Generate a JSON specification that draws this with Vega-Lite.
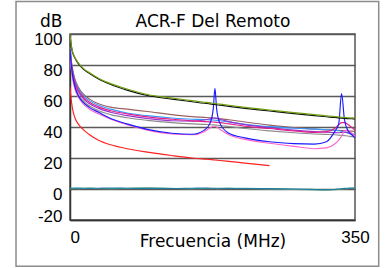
{
  "$schema": "https://vega.github.io/schema/vega-lite/v6.json",
  "width": 285,
  "height": 186,
  "autosize": {"type": "none"},
  "padding": {"left": 70, "top": 34, "right": 35, "bottom": 48},
  "background": "white",
  "config": {"view": {"stroke": "#555555", "strokeWidth": 1.5}, "font": "Liberation Sans", "axis": {"labelOverlap": false}},
  "resolve": {"scale": {"x": "independent", "y": "independent"}, "axis": {"x": "independent", "y": "independent"}},
  "data": {"values": [
    {"f": 0, "g": 100, "k": 99.5, "r": 66, "br": 92, "lb": 91, "mg": 90, "gy": 85, "pu": 87, "bl": 90, "pk": 88, "tq": 0.8, "tg": 0.3},
    {"f": 1, "g": 95, "k": 94.5, "r": 60, "br": 86, "lb": 85, "mg": 84, "gy": 80, "pu": 82, "bl": 83, "pk": 81, "tq": 0.6, "tg": 0.2},
    {"f": 3, "g": 89, "k": 88.5, "r": 52, "br": 78, "lb": 77, "mg": 76, "gy": 73, "pu": 75, "bl": 74, "pk": 72, "tq": 0.5, "tg": 0.4},
    {"f": 6, "g": 85, "k": 84.5, "r": 46, "br": 71, "lb": 70, "mg": 69, "gy": 66, "pu": 68, "bl": 66, "pk": 64.5, "tq": 0.5, "tg": 0.6},
    {"f": 10, "g": 81.5, "k": 81, "r": 42, "br": 66, "lb": 65, "mg": 64, "gy": 61, "pu": 63, "bl": 60.5, "pk": 59.5, "tq": 0.6, "tg": 0.2},
    {"f": 16, "g": 78, "k": 77.5, "r": 38.5, "br": 61.5, "lb": 60.5, "mg": 59.5, "gy": 57, "pu": 58.5, "bl": 56, "pk": 55, "tq": 0.5, "tg": 0.4},
    {"f": 24, "g": 75, "k": 74.5, "r": 35, "br": 58, "lb": 57, "mg": 56, "gy": 53.5, "pu": 55, "bl": 52.5, "pk": 51.5, "tq": 0.4, "tg": 0.6},
    {"f": 35, "g": 71.5, "k": 71, "r": 31.5, "br": 55, "lb": 54, "mg": 53, "gy": 50.5, "pu": 52, "bl": 49.5, "pk": 48.5, "tq": 0.5, "tg": 0.3},
    {"f": 50, "g": 68, "k": 67.4, "r": 28.5, "br": 52.8, "lb": 51.5, "mg": 50.5, "gy": 48, "pu": 49.5, "bl": 45.5, "pk": 45, "tq": 0.6, "tg": 0.2},
    {"f": 70, "g": 64.5, "k": 63.8, "r": 26, "br": 51.5, "lb": 49, "mg": 48.5, "gy": 46, "pu": 47.3, "bl": 42, "pk": 41.5, "tq": 0.5, "tg": 0.5},
    {"f": 95, "g": 61, "k": 60.3, "r": 23.8, "br": 50, "lb": 47.3, "mg": 46.5, "gy": 44.3, "pu": 45.5, "bl": 38.5, "pk": 38, "tq": 0.4, "tg": 0.7},
    {"f": 125, "g": 58.7, "k": 58, "r": 21.6, "br": 48, "lb": 45.8, "mg": 45, "gy": 42.8, "pu": 44, "bl": 36, "pk": 35.5, "tq": 0.3, "tg": 0.4},
    {"f": 150, "g": 57, "k": 56.3, "r": 20, "br": 46.7, "lb": 45, "mg": 44, "gy": 42, "pu": 43.8, "bl": 35.3, "pk": 35, "tq": 0.5, "tg": 0.2},
    {"f": 165, "g": 56, "k": 55.3, "r": 19.3, "br": 46.2, "lb": 44.8, "mg": 43.5, "gy": 41.7, "pu": 44.5, "bl": 38, "pk": 37, "tq": 0.6, "tg": 0.3},
    {"f": 172, "g": 55.6, "k": 54.9, "r": 19, "br": 46, "lb": 44.6, "mg": 43.3, "gy": 41.5, "pu": 45.3, "bl": 42.5, "pk": 39.3, "tq": 0.5, "tg": 0.5},
    {"f": 176, "g": 55.3, "k": 54.6, "r": 18.8, "br": 45.8, "lb": 44.5, "mg": 43.2, "gy": 41.4, "pu": 45.8, "bl": 52, "pk": 40.5, "tq": 0.5, "tg": 0.3},
    {"f": 178, "g": 55.2, "k": 54.5, "r": 18.7, "br": 45.7, "lb": 44.4, "mg": 43.1, "gy": 41.3, "pu": 45.8, "bl": 65, "pk": 40.5, "tq": 0.4, "tg": 0.4},
    {"f": 180, "g": 55, "k": 54.3, "r": 18.6, "br": 45.6, "lb": 44.3, "mg": 43, "gy": 41.2, "pu": 45.6, "bl": 52, "pk": 40, "tq": 0.5, "tg": 0.2},
    {"f": 184, "g": 54.8, "k": 54.1, "r": 18.4, "br": 45.4, "lb": 44, "mg": 42.8, "gy": 41, "pu": 45, "bl": 42.5, "pk": 38.5, "tq": 0.5, "tg": 0.3},
    {"f": 195, "g": 54, "k": 53.3, "r": 17.8, "br": 44.7, "lb": 43.3, "mg": 42, "gy": 40.3, "pu": 43.5, "bl": 36, "pk": 35, "tq": 0.4, "tg": 0.5},
    {"f": 215, "g": 52.7, "k": 52, "r": 16.7, "br": 43.2, "lb": 41.7, "mg": 40.5, "gy": 39, "pu": 41.5, "bl": 33, "pk": 32, "tq": 0.3, "tg": 0.4},
    {"f": 245, "g": 51, "k": 50.3, "r": 15.1, "br": 41.2, "lb": 40.2, "mg": 39, "gy": 37.5, "pu": 39.5, "bl": 30.5, "pk": 29.5, "tq": 0.2, "tg": 0.1},
    {"f": 275, "g": 49.3, "k": 48.6, "r": null, "br": 39.7, "lb": 39.2, "mg": 37.5, "gy": 36.3, "pu": 38, "bl": 29.3, "pk": 27.5, "tq": 0, "tg": -0.2},
    {"f": 300, "g": 48, "k": 47.3, "r": null, "br": 38.6, "lb": 38.6, "mg": 36.5, "gy": 35.5, "pu": 37, "bl": 29, "pk": 26, "tq": -0.3, "tg": -0.6},
    {"f": 315, "g": 47.2, "k": 46.6, "r": null, "br": 38.1, "lb": 38.2, "mg": 37, "gy": 35.2, "pu": 36.6, "bl": 30.5, "pk": 26.5, "tq": -0.5, "tg": -0.8},
    {"f": 325, "g": 46.7, "k": 46.1, "r": null, "br": 37.9, "lb": 38, "mg": 39, "gy": 35, "pu": 36.4, "bl": 37, "pk": 29, "tq": -0.3, "tg": -0.5},
    {"f": 330, "g": 46.5, "k": 45.9, "r": null, "br": 37.8, "lb": 37.6, "mg": 41.5, "gy": 34.8, "pu": 36.3, "bl": 42, "pk": 31.5, "tq": 0, "tg": -0.2},
    {"f": 333.5, "g": 46.3, "k": 45.7, "r": null, "br": 37.7, "lb": 37.2, "mg": 42.8, "gy": 34.6, "pu": 36.5, "bl": 61.5, "pk": 34, "tq": 0.2, "tg": 0},
    {"f": 337, "g": 46.1, "k": 45.5, "r": null, "br": 37.6, "lb": 36.7, "mg": 42.8, "gy": 34.4, "pu": 36.7, "bl": 45, "pk": 37.5, "tq": 0.4, "tg": 0.2},
    {"f": 341, "g": 46, "k": 45.4, "r": null, "br": 37.5, "lb": 36.1, "mg": 41.8, "gy": 34.2, "pu": 36.4, "bl": 38, "pk": 38, "tq": 0.5, "tg": 0.3},
    {"f": 346, "g": 45.9, "k": 45.3, "r": null, "br": 37.3, "lb": 35.2, "mg": 39.8, "gy": 33.8, "pu": 35.8, "bl": 35, "pk": 36, "tq": 0.6, "tg": 0.4},
    {"f": 350, "g": 45.8, "k": 45.2, "r": null, "br": 37, "lb": 34.3, "mg": 37.8, "gy": 33.5, "pu": 35, "bl": 33, "pk": 34, "tq": 0.6, "tg": 0.4}
  ]},
  "layer": [
    {
      "data": {"values": [{"frame": 1}]},
      "mark": {"type": "rect", "fill": null, "stroke": "#8c8c8c", "strokeWidth": 1.5, "clip": false},
      "encoding": {
        "x": {"datum": -66.3, "type": "quantitative", "scale": {"domain": [0, 350], "nice": false},
          "axis": {"orient": "top", "title": "ACR-F Del Remoto", "labels": false, "ticks": false, "domain": false, "grid": false,
            "titleFont": "DejaVu Sans", "titleFontSize": 17, "titleFontWeight": "normal", "titleColor": "black",
            "titleX": 142.5, "titleY": -8, "titleAlign": "center", "titleBaseline": "alphabetic"}},
        "x2": {"datum": 379.1},
        "y": {"datum": 121, "type": "quantitative", "scale": {"domain": [-20, 100], "nice": false}, "axis": null},
        "y2": {"datum": -49.8}
      }
    },
    {
      "transform": [{"fold": ["tg", "tq", "r", "gy", "br", "lb", "pu", "mg", "pk", "bl", "k", "g"], "as": ["s", "v"]}],
      "mark": {"type": "line", "strokeWidth": 1.15, "interpolate": "monotone", "clip": true},
      "encoding": {
        "x": {
          "field": "f", "type": "quantitative",
          "scale": {"domain": [0, 350], "nice": false},
          "axis": {
            "title": "Frecuencia (MHz)", "values": [0, 350], "grid": false, "ticks": false,
            "domainColor": "#333333", "domainWidth": 1.5,
            "labelFont": "Liberation Sans", "labelFontSize": 17, "labelColor": "black", "labelPadding": 9,
            "labelFlush": false, "labelOverlap": false,
            "labelAlign": {"condition": {"test": "datum.value == 0", "value": "left"}, "value": "center"},
            "titleFont": "DejaVu Sans", "titleFontSize": 17, "titleFontWeight": "normal", "titleColor": "black",
            "titleY": 26, "titleX": 142.5, "titleBaseline": "alphabetic", "titleAlign": "center"
          }
        },
        "y": {
          "field": "v", "type": "quantitative",
          "scale": {"domain": [-20, 100], "nice": false},
          "axis": {
            "title": "dB", "values": [-20, 0, 20, 40, 60, 80, 100], "grid": true, "gridColor": "#5a5a5a", "gridWidth": 1.3,
            "ticks": false, "domainColor": "#333333", "domainWidth": 1.5,
            "labelExpr": "'' + datum.value",
            "labelFont": "Liberation Sans", "labelFontSize": 17, "labelColor": "black", "labelPadding": 8, "labelOffset": 5,
            "labelFlush": false, "labelOverlap": false,
            "labelBaseline": {"condition": {"test": "datum.value == -20", "value": "bottom"}, "value": "middle"},
            "titleFont": "DejaVu Sans", "titleFontSize": 17, "titleFontWeight": "normal", "titleColor": "black",
            "titleAngle": 0, "titleX": -8, "titleY": -8, "titleAlign": "right", "titleBaseline": "alphabetic"
          }
        },
        "color": {
          "field": "s", "type": "nominal", "legend": null,
          "scale": {
            "domain": ["tg", "tq", "r", "gy", "br", "lb", "pu", "mg", "pk", "bl", "k", "g"],
            "range": ["#66aa88", "#1f7fa0", "#ff2020", "#8c8c8c", "#996060", "#3399ff", "#9933cc", "#e0208c", "#ff66cc", "#1a1aff", "#111111", "#70a010"]
          }
        }
      }
    }
  ]
}
